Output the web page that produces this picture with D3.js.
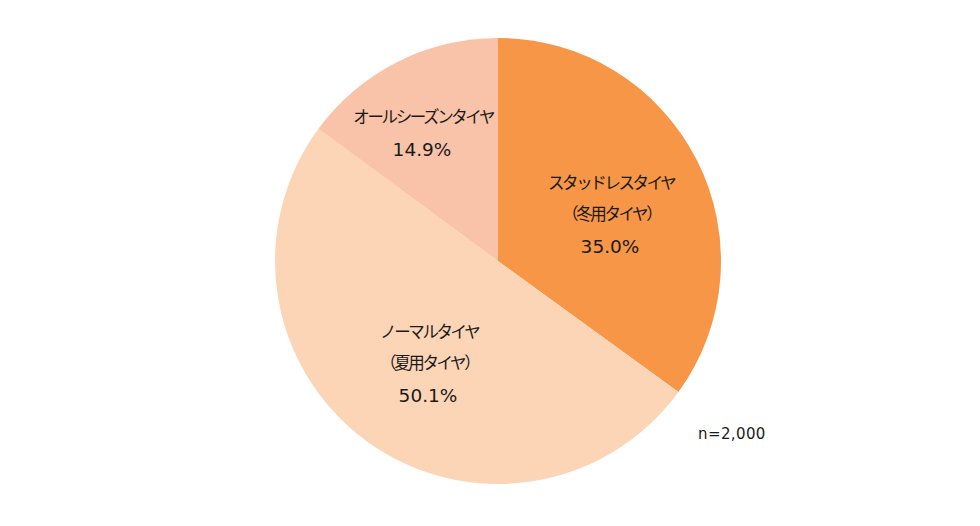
<!DOCTYPE html>
<html><head><meta charset="utf-8">
<script src="https://cdn.jsdelivr.net/npm/d3@7"></script>
<style>body{margin:0;background:#fff;}</style>
</head><body>
<svg id="c" width="980" height="526"></svg>
<script>
const categories = ["スタッドレスタイヤ\n（冬用タイヤ）", "ノーマルタイヤ\n（夏用タイヤ）", "オールシーズンタイヤ"];
const values = [35.0, 50.1, 14.9];
const colors = ["#F79646", "#FBD5B5", "#F8C3A8"];
const note = "n=2,000";

const svg = d3.select("#c");
const cx = 498, cy = 261, r = 223;
const g = svg.append("g").attr("transform", `translate(${cx},${cy})`);
const pie = d3.pie().sort(null).value(d => d)(values);
const arc = d3.arc().innerRadius(0).outerRadius(r);
g.selectAll("path").data(pie).enter().append("path")
  .attr("d", arc).attr("fill", (d, i) => colors[i]);

// label anchor (centre x, y of first line) relative to pie centre
const labelPos = [[112, -78], [-70, 71], [-76, -144]];
const jp = "'Noto Sans CJK JP', sans-serif";
const num = "'DejaVu Sans', sans-serif";
const lh = 31;
pie.forEach((d, i) => {
  const lines = categories[i].split("\n");
  lines.forEach((s, k) => {
    g.append("text").attr("text-anchor", "middle")
      .attr("x", labelPos[i][0] + 1.2).attr("y", labelPos[i][1] + k * lh).attr("dy", "0.36em")
      .attr("font-family", jp).attr("font-size", 16.5).attr("letter-spacing", -2.4)
      .attr("fill", "#1a1a1a").text(s);
  });
  g.append("text").attr("text-anchor", "middle")
    .attr("x", labelPos[i][0]).attr("y", labelPos[i][1] + lines.length * lh + 1).attr("dy", "0.36em")
    .attr("font-family", num).attr("font-size", 18.5).attr("fill", "#1a1a1a")
    .text(values[i].toFixed(1) + "%");
});
svg.append("text").attr("x", 698).attr("y", 434).attr("dy", "0.36em")
  .attr("font-family", num).attr("font-size", 15).attr("letter-spacing", 0.4)
  .attr("fill", "#1a1a1a").text(note);
</script>
</body></html>
